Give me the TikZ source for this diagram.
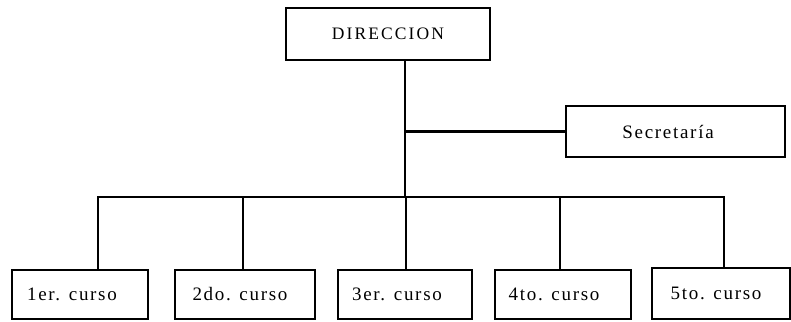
\documentclass[tikz,border=0pt]{standalone}
\usepackage{fontspec}
\setmainfont{Liberation Serif}
\newfontfamily\lsfont[LetterSpace=9]{Liberation Serif}
\newfontfamily\capfont[LetterSpace=12]{Liberation Serif}
\begin{document}
\begin{tikzpicture}[x=1pt,y=-1pt,
  box/.style={draw,line width=2.2pt,rectangle,inner sep=0pt,font=\lsfont\fontsize{19}{21}\selectfont},
  link/.style={line width=2.8pt}]
\useasboundingbox (0,0) rectangle (791,321);
\node[box,minimum width=204,minimum height=52] (dir) at (388,34) {\capfont\fontsize{17.5}{20}\selectfont DIRECCION};
\node[box,minimum width=219,minimum height=51] (sec) at (675.5,131.5) {\hspace*{-15pt}Secretaría};
\node[box,minimum width=136,minimum height=49] (c1) at (80,294.5) {\hspace*{-16pt}1er. curso};
\node[box,minimum width=140,minimum height=49] (c2) at (245,294.5) {\hspace*{-10pt}2do. curso};
\node[box,minimum width=134,minimum height=49] (c3) at (405,294.5) {\hspace*{-16pt}3er. curso};
\node[box,minimum width=136,minimum height=49] (c4) at (563,294.5) {\hspace*{-18pt}4to. curso};
\node[box,minimum width=138,minimum height=51] (c5) at (721,293.5) {\hspace*{-10pt}5to. curso};
\coordinate (t) at (405,197);
\coordinate (b1) at (98,197);
\coordinate (b2) at (243,197);
\coordinate (b3) at (406,197);
\coordinate (b4) at (560,197);
\coordinate (b5) at (724,197);
\draw[link] (t |- dir.south) -- (t);
\draw[link] (t |- sec.west) -- (sec.west);
\draw[link] (b1 |- c1.north) -- (b1) -- (b5) -- (b5 |- c5.north);
\draw[link] (b2) -- (b2 |- c2.north);
\draw[link] (b3) -- (b3 |- c3.north);
\draw[link] (b4) -- (b4 |- c4.north);
\end{tikzpicture}
\end{document}
